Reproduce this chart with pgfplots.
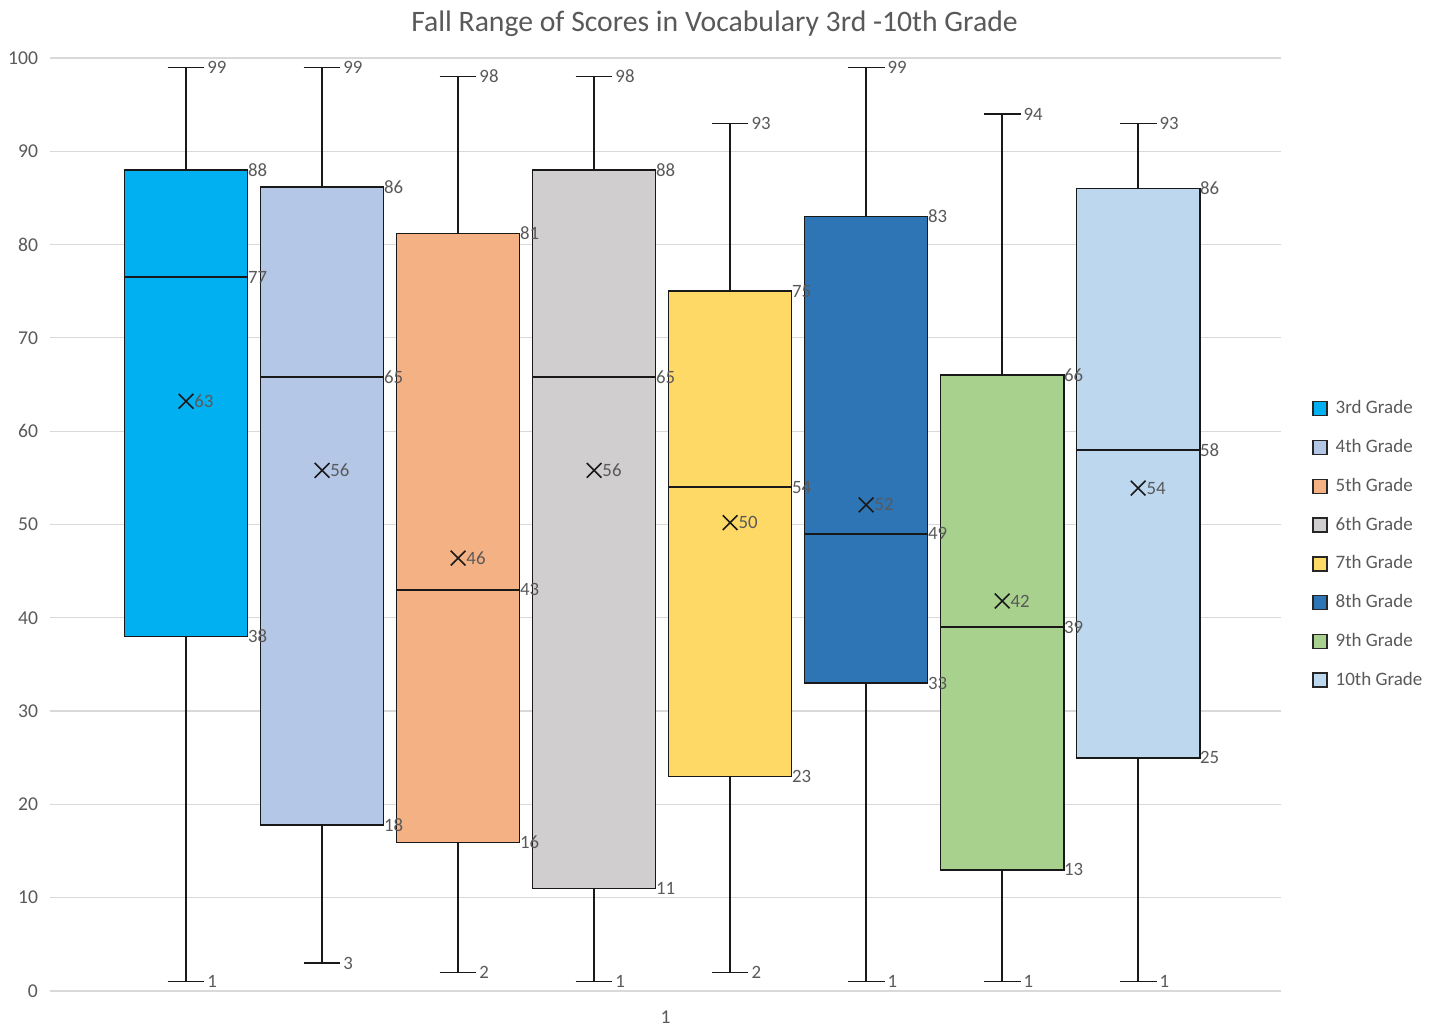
\documentclass[border=0pt]{standalone}
\usepackage{pgfplots}
\pgfplotsset{compat=1.18}
\usepgfplotslibrary{statistics}
\usepackage{pgfplotstable}
\usepackage{fontspec}
\setmainfont{Carlito}
\definecolor{txt}{HTML}{595959}
\definecolor{gridc}{HTML}{D9D9D9}
\definecolor{cA}{HTML}{00B0F0}
\definecolor{cB}{HTML}{B4C7E7}
\definecolor{cC}{HTML}{F4B183}
\definecolor{cD}{HTML}{D0CECE}
\definecolor{cE}{HTML}{FFD966}
\definecolor{cF}{HTML}{2E75B6}
\definecolor{cG}{HTML}{A9D18E}
\definecolor{cH}{HTML}{BDD7EE}
\pgfplotsset{
  sqlegend/.style={legend image code/.code={\draw[##1] (0pt,-3.5pt) rectangle (7pt,3.5pt);}},
  bx/.style={forget plot, draw=black!90, line width=0.75pt},
}
% whisker ends
\pgfplotstableread{
x y lab
1 99 99
1 1 1
2 99 99
2 3 3
3 98 98
3 2 2
4 98 98
4 1 1
5 93 93
5 2 2
6 99 99
6 1 1
7 94 94
7 1 1
8 93 93
8 1 1
}\capdata
% box values (Q3, median, Q1)
\pgfplotstableread{
x y lab
1 88 88
1 76.5 77
1 38 38
2 86.2 86
2 65.8 65
2 17.8 18
3 81.2 81
3 43 43
3 15.9 16
4 88 88
4 65.8 65
4 11 11
5 75 75
5 54 54
5 23 23
6 83 83
6 49 49
6 33 33
7 66 66
7 39 39
7 13 13
8 86 86
8 58 58
8 25 25
}\boxdata
% means
\pgfplotstableread{
x y lab
1 63.2 63
2 55.8 56
3 46.4 46
4 55.8 56
5 50.2 50
6 52.1 52
7 41.8 42
8 53.9 54
}\meandata
\begin{document}
\begin{tikzpicture}
\begin{axis}[
  scale only axis,
  width=615.5pt, height=466.5pt,
  xmin=0, xmax=9.05,
  ymin=0, ymax=100,
  ytick={0,10,...,100},
  xtick={4.525}, xticklabels={1},
  axis line style={draw=none},
  major tick length=0pt,
  ymajorgrids,
  grid style={gridc, line width=0.6pt},
  tick label style={font=\fontsize{9.8pt}{11pt}\selectfont, text=txt},
  /pgf/number format/assume math mode=true,
  yticklabel style={xshift=-2.5pt},
  xticklabel style={yshift=-6.5pt},
  title={Fall Range of Scores in Vocabulary 3rd -10th Grade},
  title style={at={(0.5398,1)}, anchor=center, yshift=11pt, font=\fontsize{14.85pt}{17pt}\selectfont, text=txt},
  legend style={draw=none, fill=none, at={(1.025,0.4786)}, anchor=west,
    font=\fontsize{9.5pt}{11pt}\selectfont, text=txt, row sep=7.3pt, inner sep=0pt,
    nodes={inner xsep=4pt}},
  legend cell align=left,
  boxplot/draw direction=y,
  boxplot/box extend=0.905,
  boxplot/whisker extend=0.27,
  boxplot/every box/.style={draw=black!90, line width=0.8pt},
  boxplot/every median/.style={draw=black!90, line width=0.75pt},
  boxplot/every whisker/.style={draw=black!90, line width=0.75pt},
  clip=false,
]
\addplot[bx, fill=cA, boxplot prepared={lower whisker=1, lower quartile=38, median=76.5, upper quartile=88, upper whisker=99, draw position=1}] coordinates {};
\addplot[bx, fill=cB, boxplot prepared={lower whisker=3, lower quartile=17.8, median=65.8, upper quartile=86.2, upper whisker=99, draw position=2}] coordinates {};
\addplot[bx, fill=cC, boxplot prepared={lower whisker=2, lower quartile=15.9, median=43, upper quartile=81.2, upper whisker=98, draw position=3}] coordinates {};
\addplot[bx, fill=cD, boxplot prepared={lower whisker=1, lower quartile=11, median=65.8, upper quartile=88, upper whisker=98, draw position=4}] coordinates {};
\addplot[bx, fill=cE, boxplot prepared={lower whisker=2, lower quartile=23, median=54, upper quartile=75, upper whisker=93, draw position=5}] coordinates {};
\addplot[bx, fill=cF, boxplot prepared={lower whisker=1, lower quartile=33, median=49, upper quartile=83, upper whisker=99, draw position=6}] coordinates {};
\addplot[bx, fill=cG, boxplot prepared={lower whisker=1, lower quartile=13, median=39, upper quartile=66, upper whisker=94, draw position=7}] coordinates {};
\addplot[bx, fill=cH, boxplot prepared={lower whisker=1, lower quartile=25, median=58, upper quartile=86, upper whisker=93, draw position=8}] coordinates {};
% means
\addplot[forget plot, only marks, mark=x, mark size=5.2pt, black!90, mark options={line width=0.8pt}] table[x=x, y=y] {\meandata};
% labels
\addplot[forget plot, only marks, mark=none, nodes near coords, point meta=explicit symbolic,
  nodes near coords align={anchor=west},
  every node near coord/.append style={inner sep=0pt, xshift=4pt, font=\fontsize{9.4pt}{11pt}\selectfont, text=txt}] table[x=x, y=y, meta=lab] {\meandata};
\addplot[forget plot, only marks, mark=none, nodes near coords, point meta=explicit symbolic,
  nodes near coords align={anchor=west},
  every node near coord/.append style={inner sep=0pt, xshift=10.5pt, font=\fontsize{9.4pt}{11pt}\selectfont, text=txt}] table[x=x, y=y, meta=lab] {\capdata};
\addplot[forget plot, only marks, mark=none, nodes near coords, point meta=explicit symbolic,
  nodes near coords align={anchor=west},
  every node near coord/.append style={inner sep=0pt, xshift=30.8pt, font=\fontsize{9.4pt}{11pt}\selectfont, text=txt}] table[x=x, y=y, meta=lab] {\boxdata};
% legend
\addlegendimage{sqlegend, fill=cA, draw=black!85, line width=0.75pt}\addlegendentry{3rd Grade}
\addlegendimage{sqlegend, fill=cB, draw=black!85, line width=0.75pt}\addlegendentry{4th Grade}
\addlegendimage{sqlegend, fill=cC, draw=black!85, line width=0.75pt}\addlegendentry{5th Grade}
\addlegendimage{sqlegend, fill=cD, draw=black!85, line width=0.75pt}\addlegendentry{6th Grade}
\addlegendimage{sqlegend, fill=cE, draw=black!85, line width=0.75pt}\addlegendentry{7th Grade}
\addlegendimage{sqlegend, fill=cF, draw=black!85, line width=0.75pt}\addlegendentry{8th Grade}
\addlegendimage{sqlegend, fill=cG, draw=black!85, line width=0.75pt}\addlegendentry{9th Grade}
\addlegendimage{sqlegend, fill=cH, draw=black!85, line width=0.75pt}\addlegendentry{10th Grade}
\end{axis}
\pgfresetboundingbox
\path (current axis.south west) ++(-25pt,-17.5pt) rectangle ++(721pt,513pt);
\end{tikzpicture}
\end{document}
